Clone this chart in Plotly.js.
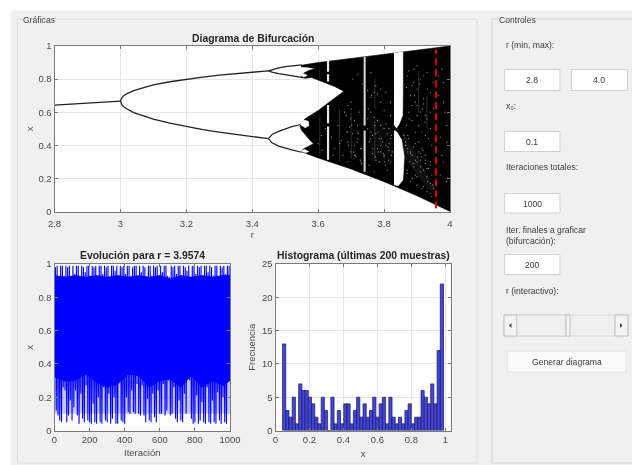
<!DOCTYPE html>
<html><head><meta charset="utf-8">
<script src="https://cdn.plot.ly/plotly-3.0.1.min.js"></script>
<style>html,body{margin:0;padding:0;background:#fff}#chart{width:632px;height:465px;filter:blur(0.65px)}</style>
</head><body><div id="chart"></div>
<script>
// ---- bifurcation diagram ----
const period1R = [2.8,2.85,2.9,2.95,3.0];
const period1X = [0.643,0.649,0.655,0.661,0.667];
const period2R = [3.0,3.005,3.01,3.02,3.04,3.07,3.1,3.15,3.2,3.25,3.3,3.35,3.4,3.449];
const period2Up = [0.667,0.69,0.699,0.7125,0.7306,0.75,0.765,0.784,0.80,0.812,0.824,0.833,0.842,0.85];
const period2Lo = [0.667,0.643,0.633,0.619,0.598,0.576,0.558,0.534,0.513,0.495,0.479,0.465,0.452,0.44];
const period4R = [3.449,3.46,3.48,3.5,3.52,3.55];
const upperOuter = [0.85,0.858,0.868,0.875,0.881,0.886];
const upperInner = [0.85,0.842,0.833,0.827,0.82,0.81];
const lowerOuter = [0.44,0.465,0.484,0.50,0.513,0.527];
const lowerInner = [0.44,0.415,0.395,0.383,0.372,0.358];
const chaosR = [3.548,3.6,3.7,3.8,3.9,4,4,3.9574,3.9,3.8,3.7,3.6,3.57,3.548,3.555,3.57,3.586,3.575,3.56,3.548,3.545,3.56,3.6,3.64,3.678,3.65,3.62,3.58,3.56,3.548,3.555,3.57,3.59,3.57,3.548];
const chaosX = [0.883,0.9,0.925,0.95,0.975,1,0,0.0417,0.095,0.1805,0.2567,0.324,0.345,0.362,0.378,0.395,0.41,0.43,0.465,0.495,0.525,0.56,0.61,0.67,0.727,0.755,0.78,0.81,0.805,0.81,0.835,0.85,0.864,0.872,0.875];
const lensAR = [3.545,3.553,3.564,3.566,3.555]; const lensAX = [0.822,0.834,0.827,0.82,0.812];
const lensBR = [3.545,3.556,3.57,3.572,3.56];   const lensBX = [0.525,0.553,0.545,0.52,0.505];
const lensCR = [3.546,3.558,3.572,3.56];        const lensCX = [0.366,0.375,0.362,0.355];
const windowTopR = [3.83,3.857,3.857,3.856,3.846,3.838,3.833,3.83];
const windowTopX = [0.957,0.963,0.72,0.58,0.53,0.505,0.515,0.53];
const windowLowR = [3.83,3.838,3.853,3.861,3.857,3.843,3.83];
const windowLowX = [0.489,0.483,0.433,0.332,0.191,0.155,0.162];
const stripeAR = [3.63,3.63,null,3.63,3.63,null,3.63,3.63,null,3.63,3.63];
const stripeAX = [0.909,0.845,null,0.829,0.785,null,0.644,0.533,null,0.513,0.312];
const stripeBR = [3.741,3.741,null,3.741,3.741];
const stripeBX = [0.935,0.52,null,0.49,0.24];
const faintR = [3.605,3.605,null,3.605,3.605,null,3.665,3.665,null,3.772,3.772,null,3.772,3.772,null,3.7,3.7,null,3.905,3.905,null,3.93,3.93];
const faintX = [0.86,0.8,null,0.58,0.35,null,0.62,0.30,null,0.8,0.62,null,0.55,0.32,null,0.6,0.32,null,0.85,0.6,null,0.7,0.5];
const hazeAR = [3.855,3.875,3.9,3.955,3.94,3.89,3.862];
const hazeAX = [0.5,0.43,0.34,0.14,0.12,0.25,0.33];
const hazeBR = [3.75,3.80,3.828,3.828,3.76];
const hazeBX = [0.60,0.55,0.50,0.28,0.30];
const speckR = [3.685,3.69,3.695,3.70,3.705,3.71,3.715,3.72,3.725,3.73,3.69,3.70,3.71,3.72,3.73,3.75,3.755,3.76,3.765,3.77,3.775,3.78,3.785,3.79,3.795,3.80,3.805,3.81,3.815,3.82,3.75,3.76,3.77,3.78,3.79,3.80,3.81,3.82,3.76,3.775,3.79,3.805,3.82,3.755,3.77,3.785,3.80,3.815,3.865,3.87,3.875,3.88,3.885,3.89,3.895,3.90,3.905,3.91,3.915,3.92,3.925,3.93,3.935,3.94,3.945,3.95,3.87,3.88,3.89,3.90,3.91,3.92,3.93,3.94,3.95,3.875,3.885,3.895,3.905,3.915,3.925,3.935,3.945,3.87,3.885,3.90,3.915,3.93,3.945,3.965,3.97,3.975,3.98,3.985,3.99,3.97,3.98,3.99,3.86,3.865,3.872,3.878,3.868,3.875,
 3.60,3.612,3.622,3.64,3.65,3.66,3.67,3.675,3.68,3.61,3.645,3.665,3.69,3.70,3.71,3.72,3.73,3.69,3.705,3.72,3.735,3.76,3.775,3.79,3.805,3.82,3.765,3.78,3.80,3.815,3.825,3.89,3.90,3.895,3.91,3.905,3.92,3.915,3.93,3.925,3.94,3.895,3.91,3.925,3.94,3.955,3.885,3.90,3.92,3.95,3.96,3.975,3.99,3.965,3.98,
 3.865,3.872,3.88,3.888,3.895,3.902,3.91,3.918,3.925,3.932,3.94,3.948,3.868,3.876,3.884,3.892,3.9,3.908,3.916,3.924,3.932,3.94,3.87,3.88,3.89,3.9,3.91,3.92,3.93,3.94,3.75,3.758,3.766,3.774,3.782,3.79,3.798,3.806,3.814,3.822,3.752,3.762,3.772,3.782,3.792,3.802,3.812,3.822,3.688,3.698,3.708,3.718,3.728,3.692,3.702,3.712,3.722,3.732];
const speckX = [0.58,0.42,0.51,0.36,0.47,0.55,0.33,0.44,0.60,0.38,0.30,0.66,0.40,0.52,0.30,0.56,0.42,0.60,0.35,0.57,0.47,0.55,0.30,0.52,0.42,0.50,0.28,0.47,0.37,0.44,0.73,0.69,0.72,0.71,0.66,0.61,0.25,0.58,0.48,0.31,0.36,0.40,0.30,0.28,0.24,0.44,0.33,0.50,0.42,0.38,0.44,0.36,0.34,0.39,0.31,0.30,0.36,0.27,0.33,0.25,0.29,0.21,0.26,0.17,0.22,0.14,0.82,0.70,0.86,0.74,0.80,0.65,0.84,0.72,0.62,0.60,0.55,0.66,0.52,0.48,0.58,0.44,0.40,0.25,0.20,0.16,0.14,0.12,0.09,0.70,0.45,0.86,0.30,0.60,0.18,0.22,0.78,0.52,0.46,0.40,0.36,0.30,0.75,0.85,
 0.41,0.37,0.50,0.45,0.38,0.52,0.43,0.34,0.60,0.46,0.34,0.41,0.48,0.62,0.34,0.48,0.38,0.64,0.80,0.83,0.77,0.84,0.76,0.74,0.72,0.66,0.46,0.38,0.34,0.41,0.36,0.78,0.64,0.48,0.60,0.42,0.68,0.38,0.56,0.34,0.50,0.22,0.35,0.46,0.30,0.24,0.76,0.88,0.82,0.78,0.56,0.34,0.42,0.82,0.66,
 0.40,0.46,0.35,0.29,0.41,0.33,0.24,0.37,0.31,0.18,0.28,0.16,0.52,0.56,0.64,0.70,0.58,0.77,0.62,0.54,0.74,0.60,0.23,0.18,0.27,0.21,0.31,0.15,0.26,0.11,0.50,0.44,0.38,0.33,0.48,0.40,0.35,0.53,0.31,0.46,0.62,0.70,0.52,0.36,0.44,0.30,0.39,0.34,0.48,0.56,0.36,0.42,0.31,0.40,0.52,0.34,0.47,0.29];
const redR = [3.9574,3.9574];
const redX = [0.02,0.98];

// ---- x(n) for r = 3.9574: extremes of each 10 iterations ----
const seriesLow = [0.30,0.12,0.09,0.06,0.05,0.26,0.24,0.05,0.09,0.18,
 0.06,0.14,0.24,0.09,0.04,0.22,0.07,0.05,0.27,0.06,
 0.05,0.04,0.16,0.05,0.04,0.20,0.05,0.04,0.26,0.06,
 0.05,0.22,0.04,0.07,0.20,0.04,0.04,0.30,0.06,0.05,
 0.04,0.20,0.11,0.10,0.24,0.11,0.10,0.28,0.10,0.09,
 0.27,0.09,0.05,0.19,0.06,0.05,0.22,0.08,0.05,0.24,
 0.10,0.10,0.28,0.09,0.12,0.30,0.09,0.10,0.26,0.07,
 0.05,0.18,0.06,0.05,0.22,0.10,0.32,0.30,0.07,0.04,
 0.05,0.21,0.04,0.06,0.17,0.05,0.04,0.26,0.05,0.04,
 0.18,0.05,0.04,0.23,0.06,0.04,0.20,0.05,0.04,0.30];
const seriesHigh = [0.98,0.99,0.91,0.99,0.99,0.93,0.99,0.98,0.99,0.92,
 0.99,0.94,0.99,0.99,0.90,0.99,0.98,0.95,0.99,0.99,
 0.93,0.99,0.98,0.99,0.91,0.99,0.99,0.94,0.99,0.98,
 0.99,0.92,0.99,0.99,0.96,0.99,0.90,0.99,0.98,0.99,
 0.94,0.99,0.99,0.92,0.98,0.99,0.99,0.93,0.99,0.95,
 0.99,0.98,0.91,0.99,0.99,0.93,0.99,0.98,0.99,0.92,
 0.99,0.95,0.99,0.99,0.93,0.92,0.99,0.98,0.99,0.94,
 0.99,0.99,0.92,0.99,0.98,0.96,0.99,0.90,0.99,0.99,
 0.94,0.99,0.98,0.99,0.92,0.99,0.99,0.95,0.99,0.98,
 0.93,0.99,0.99,0.91,0.99,0.98,0.99,0.94,0.99,0.99];
// solid body of the blue trace: where the picture is fully covered
const coreIter = [0,60,120,180,240,300,360,420,480,540,600,660,720,780,840,900,960,1000,1000,960,900,840,780,720,660,600,540,480,420,360,300,240,180,120,60,0];
const coreX = [0.93,0.92,0.93,0.92,0.93,0.92,0.93,0.92,0.93,0.92,0.93,0.91,0.93,0.92,0.93,0.92,0.93,0.93,0.30,0.27,0.30,0.26,0.33,0.26,0.31,0.30,0.26,0.33,0.34,0.28,0.26,0.29,0.34,0.30,0.30,0.32];
// blue strip below the body, paler in the picture
const paleIter = [0,1000,1000,0];
const paleX = [0.3,0.3,0.1,0.1];

// ---- histogram of the last 200 samples ----
const histCounts = [13,3,2,5,1,7,6,6,5,4,2,1,5,3,0,5,1,3,1,4,4,1,3,5,2,4,2,3,5,2,4,5,1,5,2,1,2,1,3,4,1,2,2,6,5,4,7,4,12,22];
const histStart = 0.0415, histBin = 0.01895;

// ---- ticks and text ----
const rTicks = [2.8,3,3.2,3.4,3.6,3.8,4];
const rTickText = ['2.8','3','3.2','3.4','3.6','3.8','4'];
const unitTicks = [0,0.2,0.4,0.6,0.8,1];
const unitTickText = ['0','0.2','0.4','0.6','0.8','1'];
const iterTicks = [0,200,400,600,800,1000];
const freqTicks = [0,5,10,15,20,25];
const titles = ['Diagrama de Bifurcación','Evolución para r = 3.9574','Histograma (últimas 200 muestras)'];

// ---- traces ----
const black='#000';
const poly=(x,y,color)=>({type:'scatter',mode:'lines',x,y,fill:'toself',fillcolor:color,line:{color,width:0.6},xaxis:'x',yaxis:'y',hoverinfo:'skip'});
const haze=(x,y,color)=>({type:'scatter',mode:'lines',x,y,fill:'toself',fillcolor:color,line:{width:0},xaxis:'x',yaxis:'y',hoverinfo:'skip'});
const line=(x,y,w,color)=>({type:'scatter',mode:'lines',x,y,line:{color,width:w},connectgaps:false,xaxis:'x',yaxis:'y',hoverinfo:'skip'});
const seriesX=[],seriesY=[];
seriesLow.forEach((v,i)=>{seriesX.push(i*10,i*10+5);seriesY.push(v,seriesHigh[i]);});
const data=[
 line(period1R,period1X,1.3,'#222'),
 line(period2R,period2Up,1.3,'#222'),
 line(period2R,period2Lo,1.3,'#222'),
 line(period4R,upperOuter,1.2,'#222'),
 line(period4R,upperInner,1.2,'#222'),
 line(period4R,lowerOuter,1.2,'#222'),
 line(period4R,lowerInner,1.2,'#222'),
 poly(chaosR,chaosX,black),
 poly(lensAR,lensAX,'#fff'),
 poly(lensBR,lensBX,'#fff'),
 poly(lensCR,lensCX,'#fff'),
 haze(hazeAR,hazeAX,'rgba(255,255,255,0.07)'),
 haze(hazeBR,hazeBX,'rgba(255,255,255,0.03)'),
 line(faintR,faintX,1,'rgba(255,255,255,0.18)'),
 {type:'scatter',mode:'markers',x:speckR,y:speckX,marker:{size:1.3,color:'rgba(255,255,255,0.55)'},xaxis:'x',yaxis:'y',hoverinfo:'skip'},
 poly(windowTopR,windowTopX,'#fff'),
 poly(windowLowR,windowLowX,'#fff'),
 line(stripeAR,stripeAX,2.2,'rgba(255,255,255,0.9)'),
 line(stripeBR,stripeBX,2,'rgba(255,255,255,0.85)'),
 {type:'scatter',mode:'lines',x:redR,y:redX,line:{color:'#e00000',width:2,dash:'7px,4px'},xaxis:'x',yaxis:'y',hoverinfo:'skip'},
 {type:'scatter',mode:'lines',x:paleIter,y:paleX,fill:'toself',fillcolor:'rgba(0,0,255,0.22)',line:{width:0},xaxis:'x2',yaxis:'y2',hoverinfo:'skip'},
 {type:'scatter',mode:'lines',x:coreIter,y:coreX,fill:'toself',fillcolor:'#0000ff',line:{color:'#0000ff',width:1},xaxis:'x2',yaxis:'y2',hoverinfo:'skip'},
 {type:'scatter',mode:'lines',x:seriesX,y:seriesY,line:{color:'#0000ff',width:1.1,simplify:false},xaxis:'x2',yaxis:'y2',hoverinfo:'skip'},
 {type:'bar',x0:histStart+histBin/2,dx:histBin,y:histCounts,width:histBin,marker:{color:'#4444e4',line:{color:'#1a1a40',width:0.7}},xaxis:'x3',yaxis:'y3',hoverinfo:'skip'}
];

// ---- layout helpers (pixels of the 632x465 page to paper fractions) ----
const W=632,H=465,px=x=>x/W,py=y=>1-y/H;
const textC='#3a3a3a',uiFont='Liberation Sans, Arial, sans-serif';
const common={showline:true,mirror:'ticks',linecolor:'#7a7a7a',linewidth:1,ticks:'inside',ticklen:3,tickcolor:'#7a7a7a',tickwidth:1,showgrid:true,gridcolor:'#e6e6e6',gridwidth:1,zeroline:false,tickfont:{size:9.5,color:'#4a4a4a',family:uiFont},tickmode:'array',automargin:false};
const axis=(x0,x1,extra)=>Object.assign({domain:[px(x0),px(x1)]},common,extra);
const yaxis=(y0,y1,extra)=>Object.assign({domain:[py(y1),py(y0)]},common,extra);
const axT=(t,s)=>({text:t,standoff:s,font:{size:9.5,color:'#4a4a4a',family:uiFont}});

const rect=(x0,y0,x1,y1,fill,border,w)=>({type:'rect',xref:'paper',yref:'paper',x0:px(x0),x1:px(x1),y0:py(y1),y1:py(y0),fillcolor:fill,line:{color:border||fill,width:w===undefined?1:w},layer:'below'});
const tri=(pts,color)=>({type:'path',xref:'paper',yref:'paper',path:'M'+pts.map(p=>px(p[0])+','+py(p[1])).join('L')+'Z',fillcolor:color,line:{width:0},layer:'below'});
const label=(x,y,text,opt)=>Object.assign({xref:'paper',yref:'paper',x:px(x),y:py(y),text,showarrow:false,xanchor:'left',yanchor:'middle',font:{size:8.6,color:textC,family:uiFont},borderpad:0},opt||{});
const box=(x0,y0,x1,y1)=>rect(x0,y0,x1,y1,'#ffffff','#d2d2d2',1);

const shapes=[
 rect(0,0,632,10,'#ffffff'),
 rect(0,0,10,465,'#ffffff'),
 rect(17.5,19,477,463,'rgba(0,0,0,0)','#dcdcdc',1),
 rect(492,19,640,463,'rgba(0,0,0,0)','#d0d0d0',1),
 box(504.5,69.5,560,90.5), box(571.5,69.5,627.5,90.5),
 box(504.5,131.5,560,151.5), box(504.5,193.5,560,213),
 box(504.5,254.5,560,274.5),
 rect(504,315,628,336,'#f0f0f0','#d8d8d8',1),
 rect(504,315,517,336,'#f4f4f4','#bcbcbc',1),
 rect(517,315,566,336,'#f0f0f0','#cfcfcf',1),
 rect(566,315,570,336,'#f4f4f4','#c0c0c0',1),
 rect(615,315,628,336,'#f4f4f4','#bcbcbc',1),
 tri([[511.5,323],[511.5,328],[509,325.5]],'#444'),
 tri([[620,323],[620,328],[622.5,325.5]],'#444'),
 rect(507,351,626,372,'#fbfbfb','#e0e0e0',1)
];
const tf={size:10.4,color:'#262626',family:uiFont,weight:700};
const annotations=[
 label(21.5,20,'Gráficas',{bgcolor:'#f0f0f0'}),
 label(498,20,'Controles',{bgcolor:'#f0f0f0'}),
 label(505,45,'r (min, max):'),
 label(532,80,'2.8',{xanchor:'center'}),
 label(599,80,'4.0',{xanchor:'center'}),
 label(505,106,'x₀:'),
 label(532,141.5,'0.1',{xanchor:'center'}),
 label(505,167,'Iteraciones totales:'),
 label(532,203.5,'1000',{xanchor:'center'}),
 label(505,230,'Iter. finales a graficar'),
 label(505,240.5,'(bifurcación):'),
 label(532,265,'200',{xanchor:'center'}),
 label(505,291,'r (interactivo):'),
 label(566.5,362,'Generar diagrama',{xanchor:'center'}),
 label(252.5,38,titles[0],{xanchor:'center',font:tf}),
 label(142.5,255.5,titles[1],{xanchor:'center',font:tf}),
 label(363.5,255.5,titles[2],{xanchor:'center',font:tf})
];

const layout={
 width:W,height:H,margin:{l:0,r:0,t:0,b:0,pad:0},autosize:false,showlegend:false,
 paper_bgcolor:'#f0f0f0',plot_bgcolor:'#ffffff',barmode:'overlay',dragmode:false,
 font:{family:uiFont},
 xaxis:axis(54.5,450,{anchor:'y',range:[2.8,4],tickvals:rTicks,ticktext:rTickText,ticklabelstandoff:3,title:axT('r',3)}),
 yaxis:yaxis(46,211.5,{anchor:'x',range:[0,1],tickvals:unitTicks,ticktext:unitTickText,title:axT('x',3)}),
 xaxis2:axis(54.5,230,{anchor:'y2',range:[0,1000],tickvals:iterTicks,ticktext:iterTicks.map(String),title:axT('Iteración',5)}),
 yaxis2:yaxis(264,430.5,{anchor:'x2',range:[0,1],tickvals:unitTicks,ticktext:unitTickText,title:axT('x',3)}),
 xaxis3:axis(275.5,450.5,{anchor:'y3',range:[0,1.03],tickvals:unitTicks,ticktext:unitTickText,title:axT('x',6)}),
 yaxis3:yaxis(264,430.5,{anchor:'x3',range:[0,25],tickvals:freqTicks,ticktext:freqTicks.map(String),title:axT('Frecuencia',4)}),
 shapes,annotations
};
Plotly.newPlot('chart',data,layout,{staticPlot:true,displayModeBar:false});
</script></body></html>
